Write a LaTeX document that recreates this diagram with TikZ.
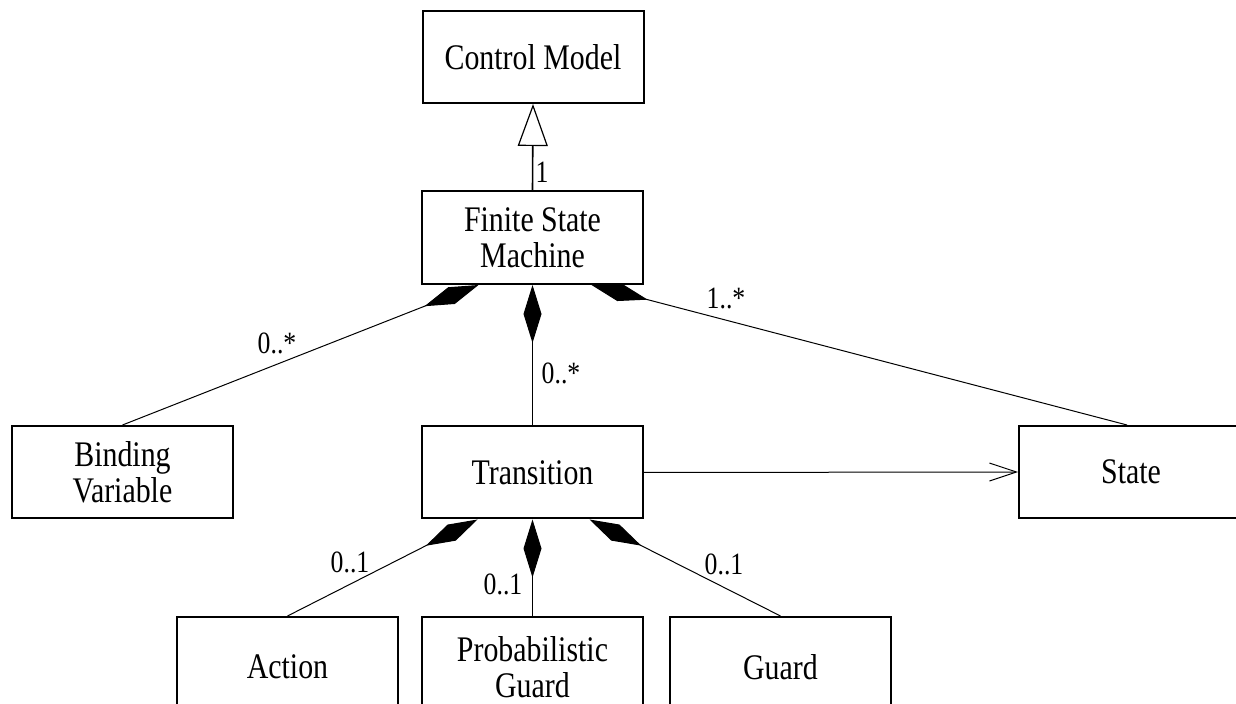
\documentclass[tikz,border=0pt]{standalone}
\usepackage{fontspec}
\setmainfont{Liberation Serif}[FakeStretch=0.83]
\usetikzlibrary{arrows.meta}
\begin{document}
\begin{tikzpicture}[x=0.5pt,y=-0.5pt,
  cls/.style={draw, line width=1pt, minimum width=110.5pt, minimum height=46pt,
    align=center, inner sep=0pt, font=\fontsize{18}{18}\selectfont},
  lbl/.style={inner sep=0pt, font=\fontsize{15.5}{16}\selectfont},
  conn/.style={line width=0.5pt},
  comp/.style={conn, {Diamond[length=29pt,width=9pt]}-},
  gen/.style={line width=0.8pt, -{Triangle[open,length=21pt,width=15pt,line width=0.6pt]}},
  nav/.style={conn, -{Straight Barb[length=13.5pt,width=9pt]}}]
\clip (0,0) rectangle (1236,704);
\fill[white] (0,0) rectangle (1236,704);

\node[cls] (cm) at (533,57) {Control Model};
\node[cls, minimum height=46.5pt] (fsm) at (532.5,237.5) {Finite State\\Machine};
\node[cls] (bv) at (122.5,472) {Binding\\Variable};
\node[cls] (tr) at (532.5,472.5) {Transition};
\node[cls, minimum width=112pt] (st) at (1131,472) {State};
\node[cls, minimum height=50pt] (act) at (287.5,667) {Action};
\node[cls, minimum height=50pt] (pg) at (532.5,667) {Probabilistic\\Guard};
\node[cls, minimum height=50pt] (gd) at (780.5,667) {Guard};

\draw[gen] (fsm.north) -- (cm.south);
\draw[comp] ([xshift=-27pt]fsm.south) -- (bv.north);
\draw[comp] (fsm.south) -- (tr.north);
\draw[comp] ([xshift=29.5pt]fsm.south) -- ([xshift=-2pt]st.north);
\draw[comp] ([xshift=-27.5pt]tr.south) -- (act.north);
\draw[comp] (tr.south) -- (pg.north);
\draw[comp] ([xshift=28.5pt]tr.south) -- (gd.north);
\draw[nav] (tr.east) -- (st.west);

\node[lbl] (l1) at (542,172) {1};
\node[lbl] (l2) at (277,343) {0..*};
\node[lbl] (l3) at (561,373) {0..*};
\node[lbl] (l4) at (726,298) {1..*};
\node[lbl] (l5) at (350,562) {0..1};
\node[lbl] (l6) at (503,584) {0..1};
\node[lbl] (l7) at (724,564) {0..1};
\end{tikzpicture}
\end{document}
